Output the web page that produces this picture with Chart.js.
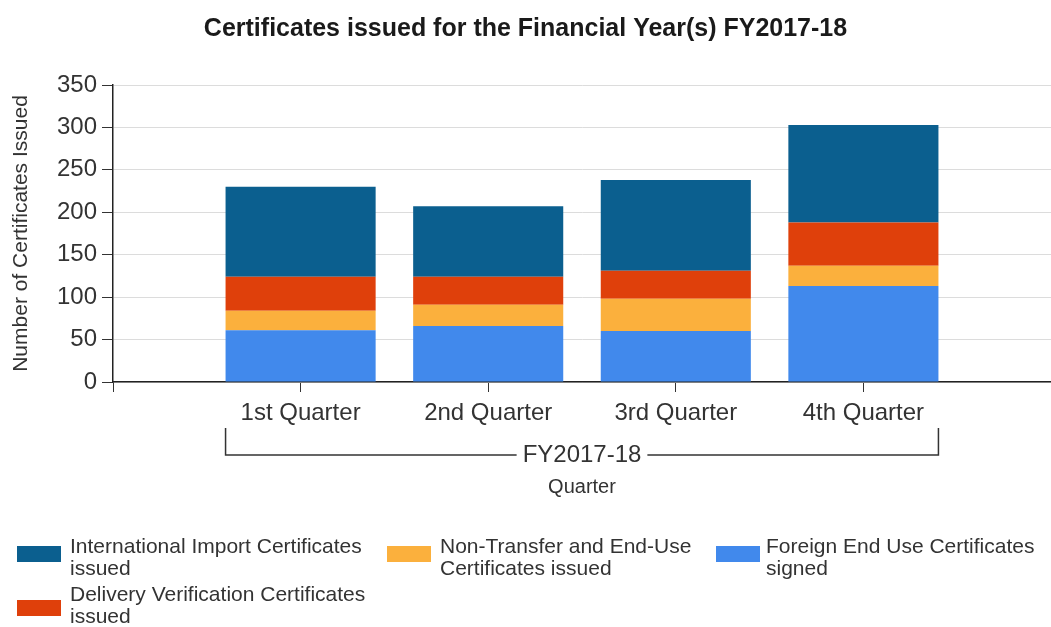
<!DOCTYPE html>
<html lang="en">
<head>
<meta charset="UTF-8">
<title>Certificates issued for the Financial Year(s) FY2017-18</title>
<script src="https://cdn.jsdelivr.net/npm/chart.js@4.4.0/dist/chart.umd.min.js"></script>
<style>
    html, body {
        margin: 0;
        padding: 0;
        background: #fff;
    }
    body {
        font-family: "Liberation Sans", Arial, sans-serif;
    }
    #wrap {
        position: relative;
        width: 1051px;
        height: 627px;
    }
    .legend-text {
        position: absolute;
        font-size: 21px;
        line-height: 22px;
        color: #333;
        white-space: pre-line;
    }
    .legend-swatch {
        position: absolute;
        width: 44px;
        height: 16px;
    }
</style>
</head>
<body>
<div id="wrap">
    <canvas id="chart" width="1051" height="627"></canvas>
    <div id="legend"></div>
</div>

<script>
    // values, bottom segment first
    const quarters = ['1st Quarter', '2nd Quarter', '3rd Quarter', '4th Quarter'];
    const foreignEndUse = [61, 66, 60, 113];
    const nonTransfer = [23, 25, 38, 24];
    const deliveryVerification = [40, 33, 33, 51];
    const internationalImport = [106, 83, 107, 115];
    const yTicks = [0, 50, 100, 150, 200, 250, 300, 350];
    const groupLabel = 'FY2017-18';

    const FONT = '"Liberation Sans", Arial, sans-serif';
    const TEXT = '#333';

    // empty slot on each side, like the original axis
    const axisLabels = ['', ...quarters, ''];
    const pad = arr => [null, ...arr, null];

    const series = [
        { name: 'Foreign End Use Certificates\nsigned', data: foreignEndUse, color: '#4189ec' },
        { name: 'Non-Transfer and End-Use\nCertificates issued', data: nonTransfer, color: '#fbb03d' },
        { name: 'Delivery Verification Certificates\nissued', data: deliveryVerification, color: '#df400b' },
        { name: 'International Import Certificates\nissued', data: internationalImport, color: '#0b5f8f' }
    ];

    // bracket with the year under the quarter labels
    const groupBracket = {
        id: 'groupBracket',
        afterDraw(chart) {
            const ctx = chart.ctx;
            const xs = chart.scales.x;
            const bars = chart.getDatasetMeta(0).data;
            const first = bars[1], last = bars[quarters.length];
            const x1 = first.x - first.width / 2;
            const x2 = last.x + last.width / 2;
            const yTop = xs.top + 46;
            const yLine = xs.top + 73;
            ctx.save();
            ctx.font = '24px ' + FONT;
            const tw = ctx.measureText(groupLabel).width;
            const mid = (x1 + x2) / 2;
            ctx.strokeStyle = '#333';
            ctx.lineWidth = 1.5;
            ctx.beginPath();
            ctx.moveTo(x1, yTop);
            ctx.lineTo(x1, yLine);
            ctx.lineTo(mid - tw / 2 - 6, yLine);
            ctx.moveTo(mid + tw / 2 + 6, yLine);
            ctx.lineTo(x2, yLine);
            ctx.lineTo(x2, yTop);
            ctx.stroke();
            ctx.fillStyle = TEXT;
            ctx.textAlign = 'center';
            ctx.textBaseline = 'middle';
            ctx.fillText(groupLabel, mid, yLine);
            ctx.restore();
        }
    };

    new Chart(document.getElementById('chart'), {
        type: 'bar',
        data: {
            labels: axisLabels,
            datasets: series.map(s => ({
                label: s.name,
                data: pad(s.data),
                backgroundColor: s.color,
                borderWidth: 0,
                categoryPercentage: 1,
                barPercentage: 0.8
            }))
        },
        options: {
            responsive: false,
            animation: false,
            layout: { padding: { left: 0, right: 0, top: 0, bottom: 125 } },
            plugins: {
                legend: { display: false },
                tooltip: { enabled: false },
                title: {
                    display: true,
                    text: 'Certificates issued for the Financial Year(s) FY2017-18',
                    color: '#1a1a1a',
                    font: { family: FONT, size: 25, weight: 'bold' },
                    padding: { top: 14, bottom: 41 }
                }
            },
            scales: {
                x: {
                    stacked: true,
                    offset: false,
                    grid: { drawOnChartArea: false, offset: false, tickLength: 10, tickColor: '#333' },
                    border: { color: '#222', width: 1.5 },
                    ticks: { color: TEXT, font: { family: FONT, size: 24 }, padding: 7, autoSkip: false, maxRotation: 0 },
                    title: {
                        display: true,
                        text: 'Quarter',
                        color: TEXT,
                        font: { family: FONT, size: 20 },
                        padding: { top: 0, bottom: 3 }
                    },
                    afterFit(scale) {
                        scale.height = 120;
                        scale.paddingLeft = 0;
                        scale.paddingRight = 0;
                    }
                },
                y: {
                    stacked: true,
                    min: yTicks[0],
                    max: yTicks[yTicks.length - 1],
                    ticks: { stepSize: 50, color: TEXT, font: { family: FONT, size: 24 }, padding: 5 },
                    grid: { color: '#dcdcdc', tickLength: 11, tickColor: '#333' },
                    border: { color: '#222', width: 1.5 },
                    title: {
                        display: true,
                        text: 'Number of Certificates Issued',
                        color: TEXT,
                        font: { family: FONT, size: 21 },
                        padding: { top: 9 }
                    },
                    afterFit(scale) { scale.width = 113; }
                }
            }
        },
        plugins: [groupBracket]
    });

    // legend in the original's order and spots
    const legendSlots = [
        { s: 3, sx: 17, sy: 546, tx: 70, ty: 535 },
        { s: 2, sx: 17, sy: 600, tx: 70, ty: 583 },
        { s: 1, sx: 387, sy: 546, tx: 440, ty: 535 },
        { s: 0, sx: 716, sy: 546, tx: 766, ty: 535 }
    ];
    const legendEl = document.getElementById('legend');
    legendSlots.forEach(slot => {
        const sw = document.createElement('div');
        sw.className = 'legend-swatch';
        sw.style.left = slot.sx + 'px';
        sw.style.top = slot.sy + 'px';
        sw.style.background = series[slot.s].color;
        const tx = document.createElement('div');
        tx.className = 'legend-text';
        tx.style.left = slot.tx + 'px';
        tx.style.top = slot.ty + 'px';
        tx.textContent = series[slot.s].name;
        legendEl.appendChild(sw);
        legendEl.appendChild(tx);
    });
</script>
</body>
</html>
